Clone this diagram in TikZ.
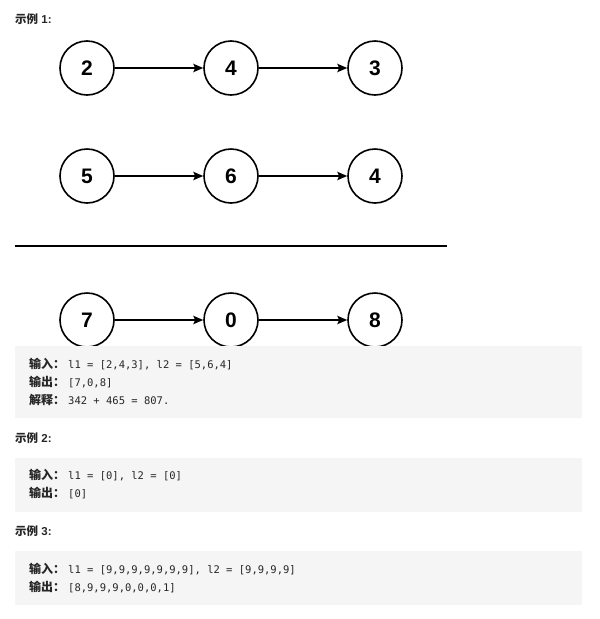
\documentclass[tikz,border=0pt]{standalone}
\usepackage{fontspec}
\setmainfont{Liberation Sans}
\setmonofont{DejaVu Sans Mono}
\newfontfamily\cjk{Noto Sans CJK SC}
\usetikzlibrary{arrows.meta}
\definecolor{txtgray}{HTML}{262626}
\definecolor{boxgray}{HTML}{F5F5F5}
\tikzset{
  listnode/.style={draw, circle, line width=1.6pt, minimum size=54pt, inner sep=0pt,
    font=\fontsize{21}{21}\selectfont\bfseries},
  nextarrow/.style={line width=1.2pt, -{Stealth[length=10pt,width=8.5pt,inset=2pt]}},
  heading/.style={anchor=west, inner sep=0pt, text=txtgray, font=\fontsize{11.5}{12}\selectfont\bfseries},
  codeline/.style={anchor=west, inner sep=0pt, text=txtgray},
  codebox/.style={fill=boxgray, draw=none}
}
\newcommand{\lbl}[1]{{\cjk\fontsize{12}{12}\selectfont\bfseries #1}\hspace{3pt}}
\newcommand{\code}[1]{{\ttfamily\fontsize{10.5}{12}\selectfont #1}}
\begin{document}
\begin{tikzpicture}[x=1pt, y=-1pt]
    \useasboundingbox (0,0) rectangle (600,619);

    % 1. 示例 1 的标题
    \node[heading] (h1) at (15,19) {{\cjk 示例} 1:};

    % 2. 三行链表结点 (l1, l2, 结果)
    \node[listnode] (a1) at (87,68) {2};
    \node[listnode] (a2) at (231,68) {4};
    \node[listnode] (a3) at (375,68) {3};
    \node[listnode] (b1) at (87,176) {5};
    \node[listnode] (b2) at (231,176) {6};
    \node[listnode] (b3) at (375,176) {4};
    \node[listnode] (c1) at (87,320) {7};
    \node[listnode] (c2) at (231,320) {0};
    \node[listnode] (c3) at (375,320) {8};
    \foreach \r in {a,b,c} {
        \draw[nextarrow] (\r1) -- (\r2);
        \draw[nextarrow] (\r2) -- (\r3);
    }

    % 3. 中间的分隔线
    \coordinate (sepL) at (15,246);
    \coordinate (sepR) at (447,246);
    \draw[line width=1.6pt] (sepL) -- (sepR);

    % 4. 示例 1 的代码框
    \fill[codebox] (15,346) rectangle (582,418);
    \node[codeline] (e1i) at (29,364) {\lbl{输入：}\code{l1 = [2,4,3], l2 = [5,6,4]}};
    \node[codeline] (e1o) at (29,382) {\lbl{输出：}\code{[7,0,8]}};
    \node[codeline] (e1x) at (29,400) {\lbl{解释：}\code{342 + 465 = 807.}};

    % 5. 示例 2
    \node[heading] (h2) at (15,438) {{\cjk 示例} 2:};
    \fill[codebox] (15,458) rectangle (582,512);
    \node[codeline] (e2i) at (29,475) {\lbl{输入：}\code{l1 = [0], l2 = [0]}};
    \node[codeline] (e2o) at (29,493) {\lbl{输出：}\code{[0]}};

    % 6. 示例 3
    \node[heading] (h3) at (15,531) {{\cjk 示例} 3:};
    \fill[codebox] (15,551) rectangle (582,605);
    \node[codeline] (e3i) at (29,569) {\lbl{输入：}\code{l1 = [9,9,9,9,9,9,9], l2 = [9,9,9,9]}};
    \node[codeline] (e3o) at (29,587) {\lbl{输出：}\code{[8,9,9,9,0,0,0,1]}};

\end{tikzpicture}
\end{document}
